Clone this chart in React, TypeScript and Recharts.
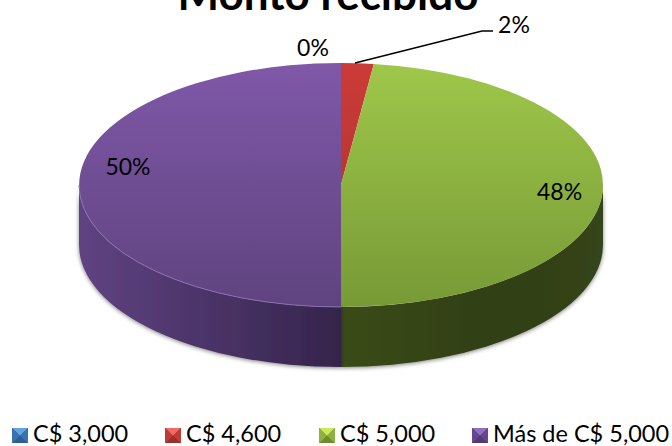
import { Legend, Pie, PieChart } from "recharts";

const categories = ["C$ 3,000", "C$ 4,600", "C$ 5,000", "Más de C$ 5,000"];
const shares = [0, 2, 48, 50];
const topFills = ["url(#topBlue)", "url(#topRed)", "url(#topGreen)", "url(#topPurple)"];
const wallFills = ["#2c5a8c", "#7a2422", "url(#wallGreen)", "url(#wallPurple)"];
const rimColors = ["none", "none", "none", "#8a6eb0"];
const swatches = [
  ["#62a4dc", "#3a72b0", "#2c5f96"],
  ["#ee6a62", "#bf3b38", "#9c2e2c"],
  ["#cbe85c", "#8fb040", "#6f8c30"],
  ["#9070bc", "#654690", "#523976"],
];

const data = categories.map((name, i) => ({
  name,
  value: shares[i],
  fill: topFills[i],
  wall: wallFills[i],
  rim: rimColors[i],
}));

const CX = 341;
const CY = 185;
const RX = 262;
const RY = 122;
const DEPTH = 60;

const rad = (deg: number) => (deg * Math.PI) / 180;
const px = (deg: number) => CX + RX * Math.cos(rad(deg));
const py = (deg: number) => CY - RY * Math.sin(rad(deg));

function EllipseSlice(props: any) {
  const { startAngle, endAngle, fill, wall, rim } = props;
  if (startAngle === endAngle) return <g />;
  const large = Math.abs(startAngle - endAngle) > 180 ? 1 : 0;
  const top = `M${CX},${CY} L${px(startAngle)},${py(startAngle)} A${RX},${RY} 0 ${large} 1 ${px(endAngle)},${py(endAngle)} Z`;

  // front wall only exists on the lower half of the ellipse (0 to -180 deg)
  const a = Math.min(startAngle, 0);
  const b = Math.max(endAngle, -180);
  let side = null;
  let edge = null;
  if (a > b) {
    const d = `M${px(a)},${py(a)} A${RX},${RY} 0 0 1 ${px(b)},${py(b)} L${px(b)},${py(b) + DEPTH} A${RX},${RY} 0 0 0 ${px(a)},${py(a) + DEPTH} Z`;
    side = <path d={d} fill={wall} filter="url(#edgeShadow)" />;
    edge = (
      <path
        d={`M${px(a)},${py(a)} A${RX},${RY} 0 0 1 ${px(b)},${py(b)}`}
        fill="none"
        stroke={rim}
        strokeWidth={1}
      />
    );
  }
  return (
    <g>
      {side}
      <path d={top} fill={fill} />
      {edge}
    </g>
  );
}

function PctLabel(props: any) {
  const { midAngle, percent, name } = props;
  const k = 0.836;
  let x = CX + RX * k * Math.cos(rad(midAngle));
  let y = CY - RY * k * Math.sin(rad(midAngle));
  // hand placed like the original data labels
  if (name === "C$ 3,000") {
    x = 313;
    y = 47;
  } else if (name === "C$ 4,600") {
    x = 514;
    y = 24;
  } else if (name === "Más de C$ 5,000") {
    x += 6;
    y -= 19;
  }
  return (
    <g>
      {name === "C$ 4,600" && (
        <polyline points="355,63 482,31 493,31" fill="none" stroke="#000" strokeWidth={1.5} />
      )}
      <text
        x={x}
        y={y}
        textAnchor="middle"
        dominantBaseline="central"
        fontFamily="Lato, sans-serif"
        fontSize={23}
        fill="#000"
      >
        {Math.round(percent * 100)}%
      </text>
    </g>
  );
}

function LegendRow({ payload }: any) {
  const lefts = [12, 165, 319, 472];
  return (
    <div style={{ position: "relative", height: 30, width: 672 }}>
      {(payload || []).map((p: any, i: number) => {
        const [light, mid, dark] = swatches[i];
        return (
          <div
            key={p.value}
            style={{
              position: "absolute",
              left: lefts[i],
              top: 0,
              display: "flex",
              alignItems: "center",
              fontFamily: "Lato, sans-serif",
              fontSize: 23.5,
              lineHeight: "30px",
              color: "#000",
              whiteSpace: "nowrap",
            }}
          >
            <span
              style={{
                width: 16,
                height: 15,
                marginRight: 5,
                marginTop: 4,
                background: `conic-gradient(${light} 0 45deg, ${mid} 45deg 135deg, ${dark} 135deg 225deg, ${mid} 225deg 315deg, ${light} 315deg)`,
              }}
            />
            {p.value}
          </div>
        );
      })}
    </div>
  );
}

export default function App() {
  return (
    <div style={{ position: "absolute", left: 0, top: 0, width: 672, height: 446, overflow: "hidden", background: "#fff" }}>
      <PieChart width={672} height={446} margin={{ top: 0, right: 0, bottom: 0, left: 0 }}>
        <defs>
          <linearGradient id="topPurple" x1="0" y1="63" x2="0" y2="307" gradientUnits="userSpaceOnUse">
            <stop offset="0" stopColor="#7f58a8" />
            <stop offset="1" stopColor="#5f437f" />
          </linearGradient>
          <linearGradient id="topGreen" x1="0" y1="63" x2="0" y2="307" gradientUnits="userSpaceOnUse">
            <stop offset="0" stopColor="#9fc74a" />
            <stop offset="1" stopColor="#779a36" />
          </linearGradient>
          <linearGradient id="topRed" x1="0" y1="63" x2="0" y2="307" gradientUnits="userSpaceOnUse">
            <stop offset="0" stopColor="#cb3b37" />
            <stop offset="1" stopColor="#a83230" />
          </linearGradient>
          <linearGradient id="topBlue" x1="0" y1="63" x2="0" y2="307" gradientUnits="userSpaceOnUse">
            <stop offset="0" stopColor="#4f81bd" />
            <stop offset="1" stopColor="#3a6596" />
          </linearGradient>
          <linearGradient id="wallPurple" x1="79" y1="0" x2="341" y2="0" gradientUnits="userSpaceOnUse">
            <stop offset="0" stopColor="#5f4382" />
            <stop offset="1" stopColor="#35244c" />
          </linearGradient>
          <linearGradient id="wallGreen" x1="341" y1="0" x2="603" y2="0" gradientUnits="userSpaceOnUse">
            <stop offset="0" stopColor="#3a4a1a" />
            <stop offset="0.6" stopColor="#313f16" />
            <stop offset="1" stopColor="#35441a" />
          </linearGradient>
          <filter id="edgeShadow" x="-5%" y="-5%" width="110%" height="115%">
            <feGaussianBlur in="SourceAlpha" stdDeviation="2" />
            <feOffset dx="0" dy="1" />
            <feComponentTransfer>
              <feFuncA type="linear" slope="0.5" />
            </feComponentTransfer>
            <feMerge>
              <feMergeNode />
              <feMergeNode in="SourceGraphic" />
            </feMerge>
          </filter>
        </defs>
        <text
          x={328}
          y={10}
          textAnchor="middle"
          fontFamily="Lato, sans-serif"
          fontWeight={700}
          fontSize={44}
          fill="#000"
        >
          Monto recibido
        </text>
        <Pie
          data={data}
          dataKey="value"
          nameKey="name"
          cx={CX}
          cy={CY}
          outerRadius={RX}
          startAngle={90}
          endAngle={-270}
          stroke="none"
          isAnimationActive={false}
          shape={EllipseSlice}
          label={PctLabel}
          labelLine={false}
        />
        <Legend
          content={LegendRow}
          layout="horizontal"
          verticalAlign="bottom"
          wrapperStyle={{ left: 0, bottom: -2, width: 672 }}
        />
      </PieChart>
    </div>
  );
}
